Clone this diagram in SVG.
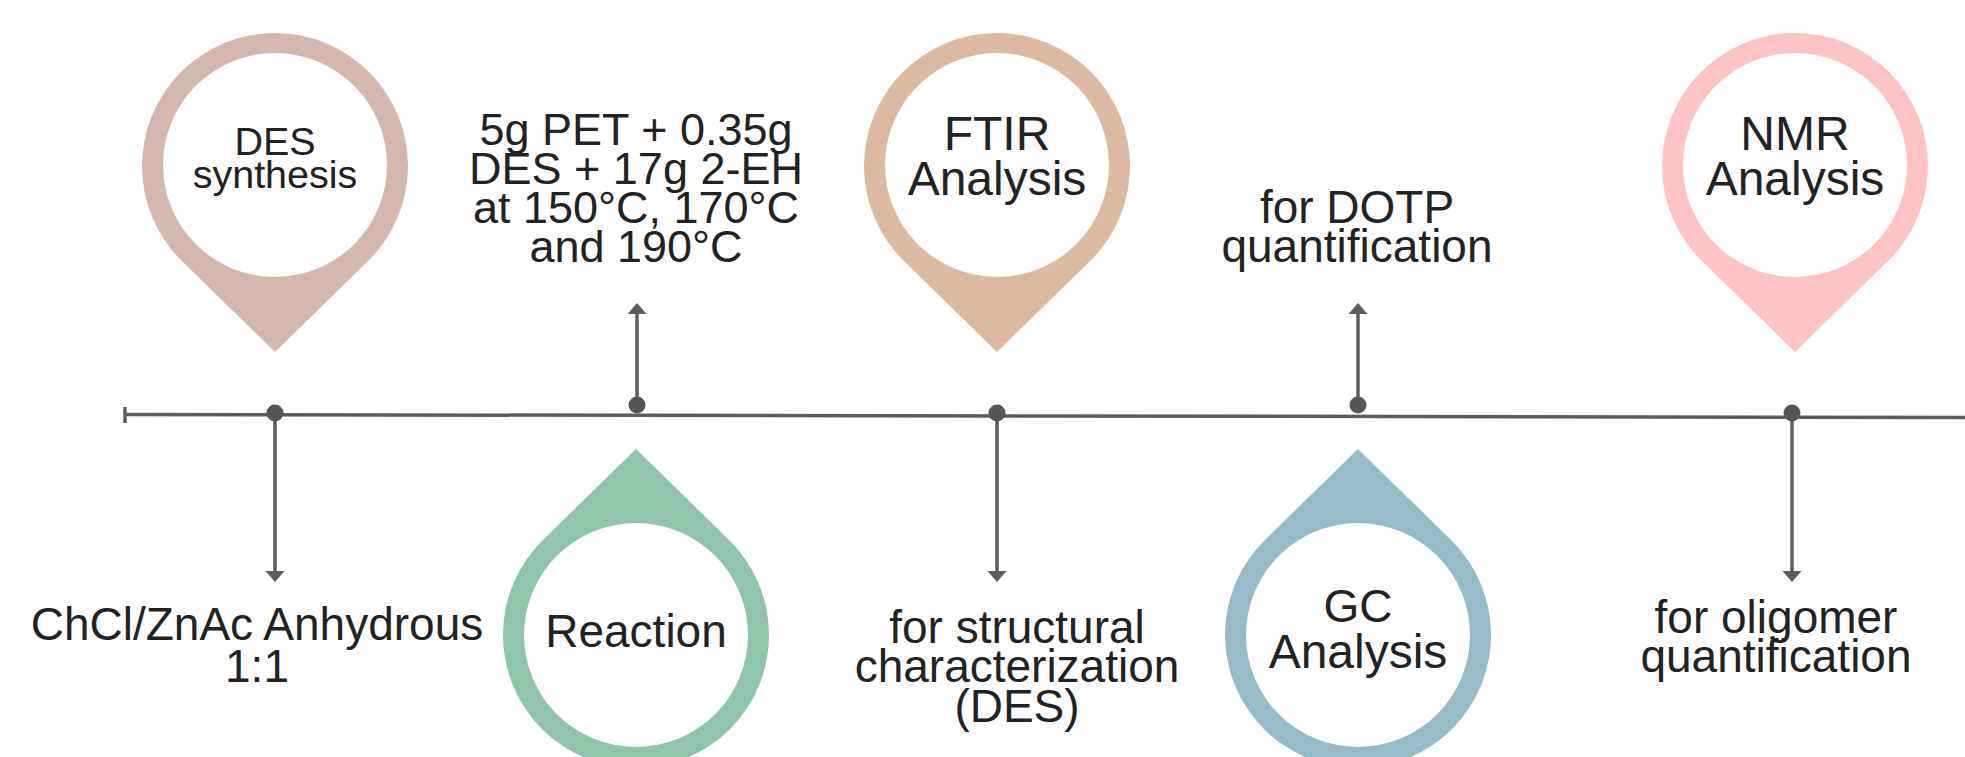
<svg xmlns="http://www.w3.org/2000/svg" width="1965" height="757" viewBox="0 0 1965 757">
<defs>
<style>
text{font-family:"Liberation Sans",Arial,sans-serif;fill:#222;text-anchor:middle}
.s38{font-size:39.5px}.s45{font-size:45px}.s46{font-size:46px}.s48{font-size:48px}
.conn{stroke:#5c5c5c;stroke-width:3.5;fill:none}
.dot{fill:#555}
.inner{fill:#fff}
</style>
<marker id="ah" markerUnits="userSpaceOnUse" markerWidth="13" markerHeight="20" refX="2" refY="9.5" orient="auto" viewBox="0 0 13 20">
<path d="M0,0 L11,9.5 L0,19 Z" fill="#5c5c5c"/>
</marker>
</defs>
<rect width="1965" height="757" fill="#fff"/>

<g id="connectors">
<line class="conn" x1="125" y1="414.5" x2="1965" y2="417.5"/>
<line class="conn" x1="125" y1="407" x2="125" y2="423"/>
<line class="conn" x1="275" y1="414" x2="275" y2="573" marker-end="url(#ah)"/>
<line class="conn" x1="637" y1="405" x2="637" y2="312" marker-end="url(#ah)"/>
<line class="conn" x1="997" y1="414" x2="997" y2="573" marker-end="url(#ah)"/>
<line class="conn" x1="1358" y1="405" x2="1358" y2="312" marker-end="url(#ah)"/>
<line class="conn" x1="1792" y1="414" x2="1792" y2="573" marker-end="url(#ah)"/>
<circle class="dot" cx="275" cy="413" r="8.5"/>
<circle class="dot" cx="637" cy="405" r="8.5"/>
<circle class="dot" cx="997" cy="413" r="8.5"/>
<circle class="dot" cx="1358" cy="405" r="8.5"/>
<circle class="dot" cx="1792" cy="413" r="8.5"/>
</g>

<g id="des-synthesis">
<path d="M275,352 L182,261.1 A133,133 0 1 1 368,261.1 Z" fill="#D4B8AE"/>
<circle class="inner" cx="275" cy="165" r="112"/>
<text class="s38" x="275" y="155">DES</text>
<text class="s38" x="275" y="188">synthesis</text>
</g>

<g id="des-detail">
<text class="s46" x="257" y="640">ChCl/ZnAc Anhydrous</text>
<text class="s46" x="257" y="682">1:1</text>
</g>

<g id="reaction-detail">
<text class="s45" x="636" y="145">5g PET + 0.35g</text>
<text class="s45" x="636" y="184">DES + 17g 2-EH</text>
<text class="s45" x="636" y="223">at 150°C, 170°C</text>
<text class="s45" x="636" y="262">and 190°C</text>
</g>

<g id="reaction">
<path d="M636,449 L729,539.9 A133,133 0 1 1 543,539.9 Z" fill="#8EC5AA"/>
<circle class="inner" cx="636" cy="635" r="112"/>
<text class="s46" x="636" y="647">Reaction</text>
</g>

<g id="ftir">
<path d="M997,352 L904,261.1 A133,133 0 1 1 1090,261.1 Z" fill="#DDB9A1"/>
<circle class="inner" cx="997" cy="165" r="112"/>
<text class="s48" x="997" y="150">FTIR</text>
<text class="s48" x="997" y="195">Analysis</text>
</g>

<g id="ftir-detail">
<text class="s46" x="1017" y="643">for structural</text>
<text class="s46" x="1017" y="682">characterization</text>
<text class="s46" x="1017" y="722">(DES)</text>
</g>

<g id="gc-detail">
<text class="s46" x="1357" y="223">for DOTP</text>
<text class="s46" x="1357" y="262">quantification</text>
</g>

<g id="gc">
<path d="M1358,449 L1451,539.9 A133,133 0 1 1 1265,539.9 Z" fill="#93BCC6"/>
<circle class="inner" cx="1358" cy="635" r="112"/>
<text class="s46" x="1358" y="622">GC</text>
<text class="s48" x="1358" y="668">Analysis</text>
</g>

<g id="nmr">
<path d="M1795,352 L1702,261.1 A133,133 0 1 1 1888,261.1 Z" fill="#FFC3C3"/>
<circle class="inner" cx="1795" cy="165" r="112"/>
<text class="s48" x="1795" y="150">NMR</text>
<text class="s48" x="1795" y="195">Analysis</text>
</g>

<g id="nmr-detail">
<text class="s46" x="1776" y="633">for oligomer</text>
<text class="s46" x="1776" y="672">quantification</text>
</g>
</svg>
